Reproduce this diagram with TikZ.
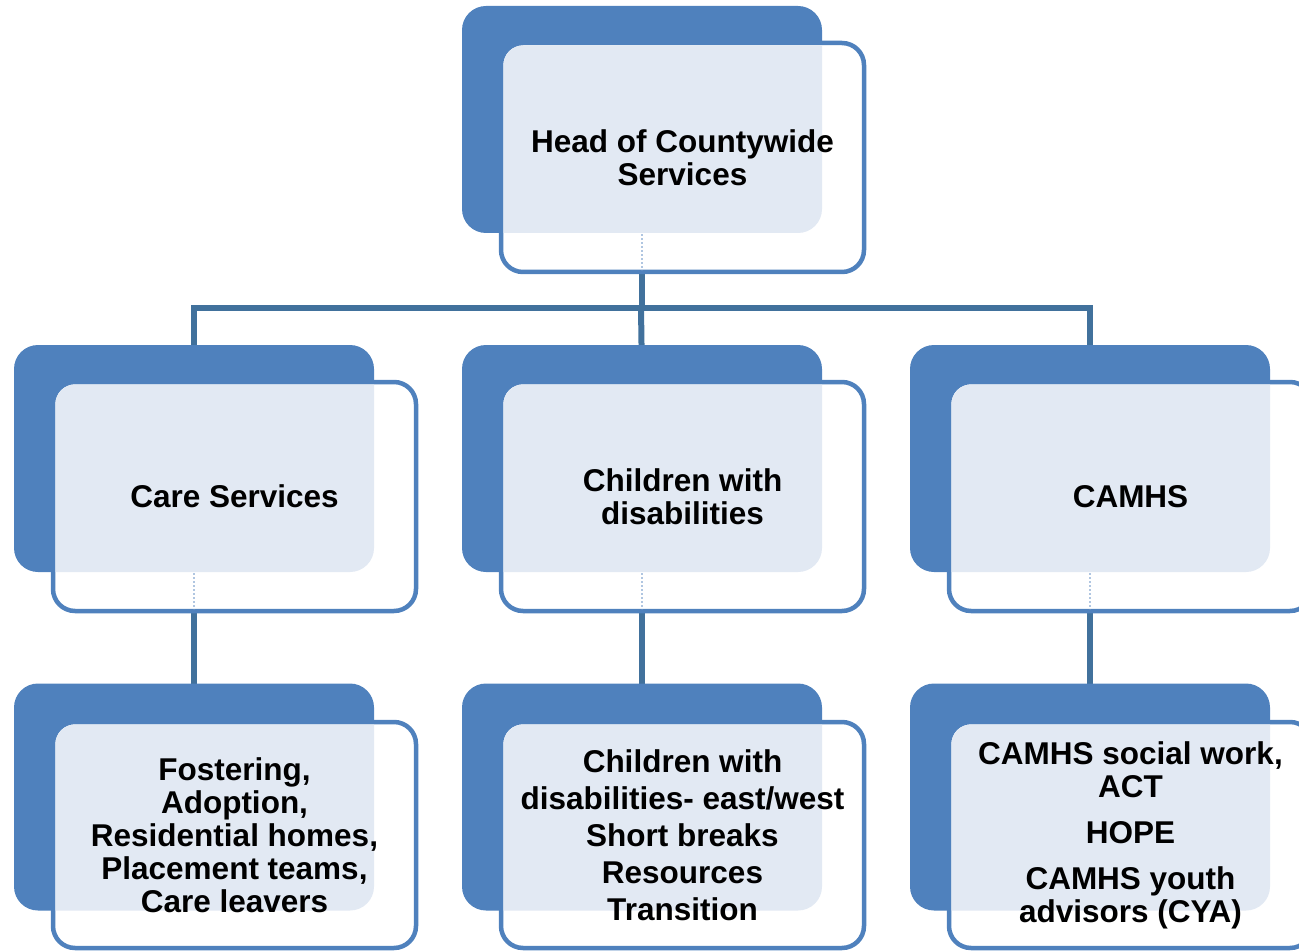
\documentclass[tikz,border=0pt]{standalone}
\usepackage{fontspec}
\setmainfont{Liberation Sans}
\usetikzlibrary{backgrounds}
\definecolor{ublue}{HTML}{4F81BD}
\definecolor{cblue}{HTML}{41719C}
\definecolor{tint}{HTML}{E2E9F3}
\tikzset{
  backbox/.style={fill=ublue, rounded corners=24pt},
  frontbox/.style={draw=ublue, line width=4.5pt, fill=white, rounded corners=22pt, inner sep=0pt},
  conn/.style={draw=cblue, line width=6pt},
  ghost/.style={draw=ublue!45, line width=2pt, dotted},
  lbl/.style={font=\bfseries\fontsize{31.5}{33}\selectfont, align=center, text=black, inner sep=0pt}
}
\newcommand{\orgunit}[5]{%
  \fill[backbox] ({#2-220.5},{#3-151.5}) rectangle ({#2+139.5},{#3+75.5});
  \node[frontbox, minimum width=363pt, minimum height=#4pt] (#1) at (#2,#3) {};
  \begin{scope}
    \clip[rounded corners=24pt] ({#2-220.5},{#3-151.5}) rectangle ({#2+139.5},{#3+75.5});
    \fill[tint, rounded corners=20pt] ({#2-179},{#3-#4/2+2.5}) rectangle ({#2+179},{#3+#4/2-2.5});
  \end{scope}
  \node[lbl] (#1-t) at (#2,#3) {#5};
}
\begin{document}
\begin{tikzpicture}[x=1pt,y=-1pt]
\useasboundingbox (0,0) rectangle (1299,952);
\clip (0,0) rectangle (1299,952);
\coordinate (bus) at (641,307.5);
% top
\orgunit{head}{682.5}{157.5}{229}{Head of Countywide\\Services}
% middle row
\orgunit{care}{234.5}{496.5}{229}{Care Services}
\orgunit{cwd}{682.5}{496.5}{229}{Children with\\disabilities}
\orgunit{camhs}{1130.5}{496.5}{229}{CAMHS}
% bottom row
\orgunit{fost}{234.5}{835}{226}{Fostering,\\Adoption,\\Residential homes,\\Placement teams,\\Care leavers}
\orgunit{cwdb}{682.5}{835}{226}{Children with\\[4pt]disabilities- east/west\\[4pt]Short breaks\\[4pt]Resources\\[4pt]Transition}
\orgunit{camhsb}{1130.5}{835}{226}{CAMHS social work,\\ACT\\[13pt]HOPE\\[13pt]CAMHS youth\\advisors (CYA)}
% faint continuations of connectors under the boxes
\foreach \n in {head,care,cwd,camhs}{
  \draw[ghost] ([xshift=-40.5pt,yshift=40pt]\n.south) -- ([xshift=-40.5pt,yshift=4pt]\n.south);
}
% connectors (behind the boxes)
\begin{scope}[on background layer]
\draw[conn] ([xshift=-40.5pt]head.south) -- ([xshift=-40.5pt]head.south |- bus);
\draw[conn] ([xshift=-40.5pt]care.north) |- (bus) -| ([xshift=-40.5pt]camhs.north);
\draw[conn] (bus) -- ([xshift=-40.5pt]cwd.north);
\draw[conn] ([xshift=-40.5pt]care.south) -- ([xshift=-40.5pt]fost.north);
\draw[conn] ([xshift=-40.5pt]cwd.south) -- ([xshift=-40.5pt]cwdb.north);
\draw[conn] ([xshift=-40.5pt]camhs.south) -- ([xshift=-40.5pt]camhsb.north);
\end{scope}
\end{tikzpicture}
\end{document}
